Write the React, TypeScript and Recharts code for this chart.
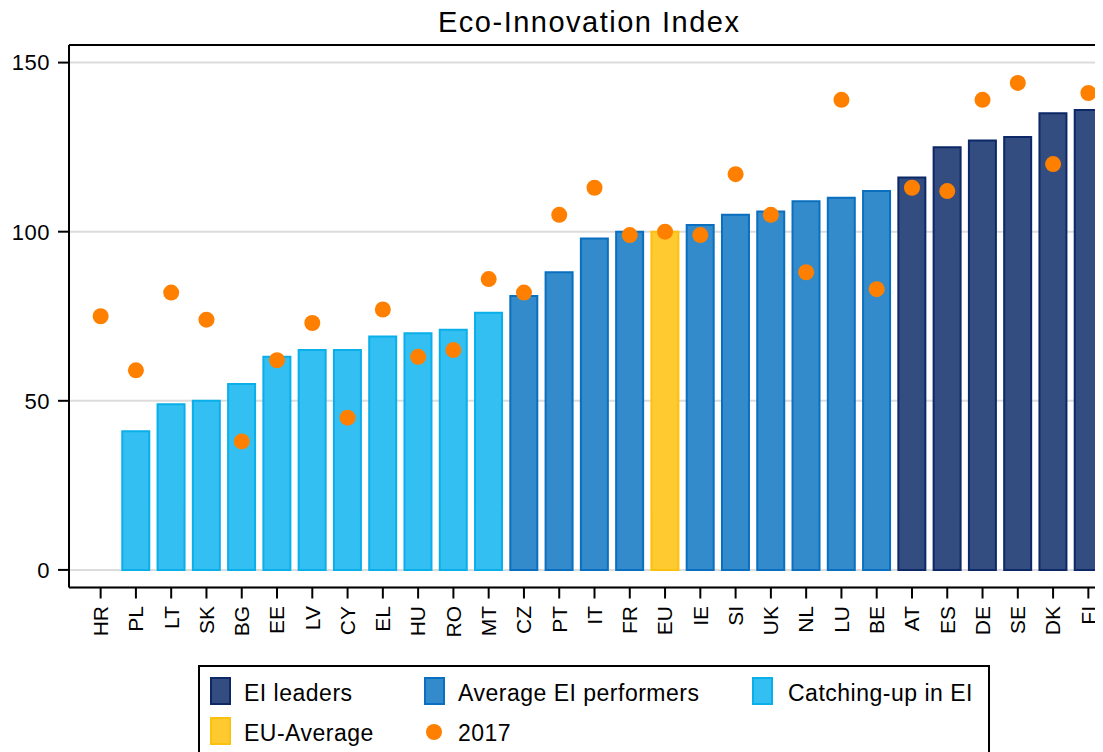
import React from 'react';
import { ComposedChart, Bar, Line, Cell, XAxis, YAxis, CartesianGrid, ReferenceLine } from 'recharts';

const countries = ['HR', 'PL', 'LT', 'SK', 'BG', 'EE', 'LV', 'CY', 'EL', 'HU', 'RO', 'MT', 'CZ', 'PT', 'IT', 'FR', 'EU', 'IE', 'SI', 'UK', 'NL', 'LU', 'BE', 'AT', 'ES', 'DE', 'SE', 'DK', 'FI'];
const eiIndex = [null, 41, 49, 50, 55, 63, 65, 65, 69, 70, 71, 76, 81, 88, 98, 100, 100, 102, 105, 106, 109, 110, 112, 116, 125, 127, 128, 135, 136];
const ei2017 = [75, 59, 82, 74, 38, 62, 73, 45, 77, 63, 65, 86, 82, 105, 113, 99, 100, 99, 117, 105, 88, 139, 83, 113, 112, 139, 144, 120, 141];
const groups = ['catch', 'catch', 'catch', 'catch', 'catch', 'catch', 'catch', 'catch', 'catch', 'catch', 'catch', 'catch', 'avg', 'avg', 'avg', 'avg', 'eu', 'avg', 'avg', 'avg', 'avg', 'avg', 'avg', 'lead', 'lead', 'lead', 'lead', 'lead', 'lead'];
const yTicks = [0, 50, 100, 150];

const COLORS: Record<string, { fill: string; stroke: string }> = {
  lead: { fill: '#334D80', stroke: '#0D2866' },
  avg: { fill: '#338BCB', stroke: '#0A6FBF' },
  catch: { fill: '#33BFF2', stroke: '#0AAFEA' },
  eu: { fill: '#FFCA2F', stroke: '#FCC00F' },
};
const DOT = '#FF8000';
const FONT = '"Liberation Sans", Arial, sans-serif';

const data = countries.map((c, i) => ({ country: c, ei: eiIndex[i], y2017: ei2017[i], group: groups[i] }));

const XTick = (props: any) => {
  const { x, y, payload } = props;
  return (
    <text
      x={x}
      y={y}
      dx={-5.5}
      dy="0.35em"
      transform={`rotate(-90, ${x}, ${y})`}
      textAnchor="end"
      fontSize={21}
      fontFamily={FONT}
      fill="#000"
    >
      {payload.value}
    </text>
  );
};

const legendText: React.CSSProperties = {
  position: 'absolute',
  fontSize: 23,
  letterSpacing: 0.5,
  lineHeight: '26px',
  height: 26,
  whiteSpace: 'nowrap',
  color: '#000',
};

const Swatch = ({ left, top, c }: { left: number; top: number; c: { fill: string; stroke: string } }) => (
  <div style={{ position: 'absolute', left, top, width: 17, height: 24, background: c.fill, border: `2px solid ${c.stroke}` }} />
);

export default function App() {
  return (
    <div style={{ position: 'relative', marginLeft: -8, marginTop: -8, width: 1103, height: 752, overflow: 'hidden', background: '#fff', fontFamily: FONT }}>
      <div style={{ position: 'absolute', left: 438, top: 6.4, fontSize: 29, letterSpacing: 1.5, lineHeight: '32px', whiteSpace: 'nowrap', color: '#000' }}>
        Eco-Innovation Index
      </div>

      <div style={{ position: 'absolute', left: 0, top: 0 }}>
        <ComposedChart width={1120} height={752} data={data} margin={{ top: 45, right: 14, left: 0, bottom: 104.5 }}>
          <CartesianGrid vertical={false} stroke="#DCDCDC" strokeWidth={2} />
          <XAxis
            dataKey="country"
            type="category"
            interval={0}
            height={60}
            padding={{ left: 14, right: 0 }}
            tickSize={11}
            tickLine={{ stroke: '#000', strokeWidth: 2 }}
            axisLine={{ stroke: '#000', strokeWidth: 2 }}
            tick={<XTick />}
          />
          <YAxis
            width={69}
            domain={[-5.2, 155.2]}
            ticks={yTicks}
            allowDataOverflow
            tickSize={11}
            tickMargin={8}
            tickLine={{ stroke: '#000', strokeWidth: 2 }}
            axisLine={{ stroke: '#000', strokeWidth: 2 }}
            tick={{ fontSize: 22, fill: '#000', fontFamily: FONT, letterSpacing: 0.5 }}
          />
          <ReferenceLine y={155.2} stroke="#000" strokeWidth={2} />
          <Bar dataKey="ei" barSize={27} strokeWidth={2} isAnimationActive={false}>
            {data.map((d, i) => (
              <Cell key={`cell-${i}`} fill={COLORS[d.group].fill} stroke={COLORS[d.group].stroke} />
            ))}
          </Bar>
          <Line
            dataKey="y2017"
            stroke="none"
            dot={{ r: 8, fill: DOT, stroke: 'none' }}
            activeDot={false}
            isAnimationActive={false}
          />
        </ComposedChart>
      </div>

      {/* legend box */}
      <div style={{ position: 'absolute', left: 198, top: 665, width: 792, height: 120, border: '2px solid #000', boxSizing: 'border-box' }} />
      <Swatch left={210} top={677} c={COLORS.lead} />
      <div style={{ ...legendText, left: 244, top: 680 }}>EI leaders</div>
      <Swatch left={424} top={677} c={COLORS.avg} />
      <div style={{ ...legendText, left: 458, top: 680 }}>Average EI performers</div>
      <Swatch left={752} top={677} c={COLORS.catch} />
      <div style={{ ...legendText, left: 788, top: 680 }}>Catching-up in EI</div>
      <Swatch left={210} top={717} c={COLORS.eu} />
      <div style={{ ...legendText, left: 244, top: 720 }}>EU-Average</div>
      <div style={{ position: 'absolute', left: 426, top: 724, width: 16, height: 16, borderRadius: '50%', background: DOT }} />
      <div style={{ ...legendText, left: 458, top: 720 }}>2017</div>
    </div>
  );
}
